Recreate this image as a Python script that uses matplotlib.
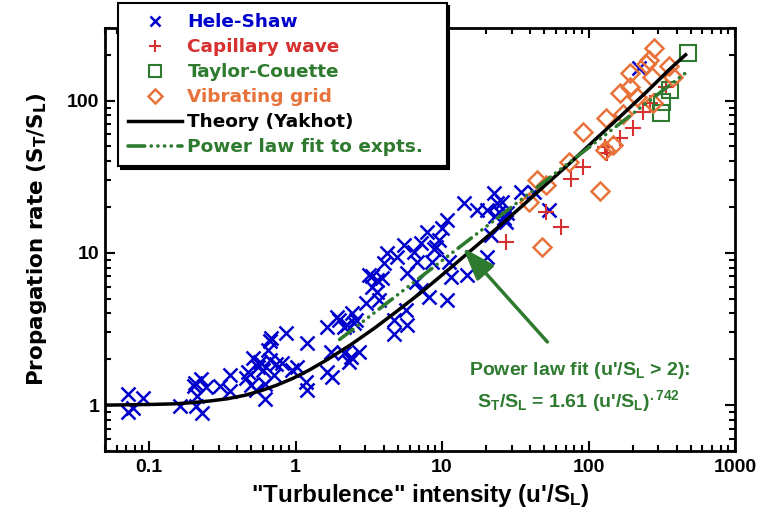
import matplotlib
matplotlib.use('Agg')
import matplotlib.pyplot as plt
from matplotlib import font_manager

# Hele-Shaw
hs_x = [0.072, 0.072, 0.078, 0.091, 0.163, 0.203, 0.207, 0.227, 0.246, 0.213, 0.21, 0.231,
        0.306, 0.359, 0.359, 0.462, 0.477, 0.516, 0.50, 0.558, 0.576, 0.604, 0.541, 0.623,
        0.623, 0.674, 0.685, 0.653, 0.674, 0.707, 0.730, 0.802, 0.855, 0.939, 1.02,
        1.19, 1.17, 1.19, 1.63, 1.63, 1.74, 1.76, 1.91, 1.97, 2.13, 2.24, 2.42, 2.58, 2.50,
        2.13, 2.38, 2.31, 2.70,
        3.16, 3.32, 3.59, 3.88, 3.02, 3.32, 3.59, 3.70, 4.01, 4.20, 4.92, 4.69, 4.69, 5.67,
        5.76, 5.49, 6.43, 6.74, 7.18, 7.89, 5.76, 6.64, 7.18, 8.15, 8.54, 9.10, 10.0, 10.8,
        9.53, 8.81, 11.2, 11.5, 14.8, 10.8, 20.3, 21.7, 14.2, 17.4, 20.3, 22.7, 23.8, 25.8,
        26.6, 27.9, 27.4, 24.5, 23.1, 34.8, 42.7, 54.1, 220]
hs_y = [1.18, 0.90, 0.955, 1.11, 0.985, 1.33, 1.40, 1.48, 1.31, 1.15, 0.985, 0.886,
        1.33, 1.57, 1.24, 1.51, 1.65, 2.04, 1.35, 1.78, 1.92, 1.70, 1.25, 1.37,
        1.09, 2.64, 2.76, 2.30, 1.98, 1.57, 1.86, 1.89, 2.98, 1.70, 1.78,
        2.56, 1.42, 1.25, 3.26, 1.65, 2.23, 1.53, 3.79, 3.62, 3.26, 3.36, 4.03, 3.62, 3.46,
        2.20, 2.07, 1.92, 2.23,
        7.16, 7.06, 6.64, 6.85, 4.69, 5.97, 5.54, 4.91, 8.59, 10.0, 9.41, 3.62, 2.93, 4.22,
        3.36, 11.3, 10.2, 8.73, 11.6, 13.7, 7.39, 6.44, 5.71, 5.14, 8.73, 10.9, 14.6, 16.5,
        12.2, 10.6, 8.73, 6.95, 7.16, 4.91, 9.41, 13.1, 21.3, 19.2, 19.2, 24.8, 21.3, 21.7,
        17.0, 18.3, 16.0, 18.6, 17.5, 25.2, 25.2, 19.2, 165]

# Capillary wave
cw_x = [27.4, 51.6, 65.3, 76.5, 91.0, 129, 133, 163, 200, 234, 262, 337]
cw_y = [11.8, 18.6, 14.8, 30.7, 36.8, 49.8, 45.5, 57.1, 66.4, 84.7, 97, 122]

# Taylor-Couette
tc_x = [476, 359, 316, 311]
tc_y = [204, 118, 98.5, 83.4]

# Vibrating grid
vg_x = [44.7, 51.6, 39.4, 48.4, 74.1, 119, 91.0, 146, 129, 131, 171, 274, 213, 163,
        191, 191, 270, 246, 258, 279, 353, 376]
vg_y = [30.2, 28.0, 21.7, 10.9, 39.7, 25.6, 62.5, 51.4, 47.6, 77.3, 82.1, 97, 105, 113,
        122, 151, 144, 175, 186, 223, 170, 142]

# Theory (Yakhot)
theory_x = [0.05, 0.1, 0.15, 0.2, 0.26, 0.34, 0.45, 0.59, 0.74, 0.96, 1.24, 1.66, 2.39,
            3.45, 4.7, 7.2, 10.6, 16, 22.7, 34.6, 51, 75, 110, 168, 251, 356, 460]
theory_y = [1.0, 1.01, 1.02, 1.04, 1.065, 1.1, 1.16, 1.25, 1.35, 1.5, 1.7, 2.0, 2.5,
            3.2, 4.0, 5.5, 7.5, 10.5, 14, 20, 28, 39, 55, 80, 115, 160, 200]

# power law fit end points
fit_x = [2.0, 460]
fit_y = [2.7, 152]

xticks = [0.1, 1, 10, 100, 1000]
xtick_labels = ['0.1', '1', '10', '100', '1000']
yticks = [1, 10, 100]
ytick_labels = ['1', '10', '100']

blue = '#0000cc'
red = '#d63030'
green = '#2e7a2e'
orange = '#e8733a'

names = {f.name for f in font_manager.fontManager.ttflist}
narrow = 'Liberation Sans Narrow' if 'Liberation Sans Narrow' in names else 'Liberation Sans'

plt.rcParams['mathtext.fontset'] = 'custom'
plt.rcParams['mathtext.rm'] = 'Liberation Sans:bold'
plt.rcParams['mathtext.it'] = 'Liberation Sans:bold'
plt.rcParams['mathtext.bf'] = 'Liberation Sans:bold'
plt.rcParams['lines.scale_dashes'] = False

fig = plt.figure(figsize=(7.57, 5.25), dpi=100)
ax = fig.add_axes([0.1387, 0.141, 0.8322, 0.8057])

ax.plot(hs_x, hs_y, 'x', ls='none', color=blue, ms=9.5, mew=1.8, label='Hele-Shaw')
ax.plot(cw_x, cw_y, '+', ls='none', color=red, ms=12, mew=1.5, label='Capillary wave')
ax.plot(tc_x, tc_y, 's', ls='none', color=green, mfc='none', ms=12, mew=1.5,
        label='Taylor-Couette')
ax.plot(vg_x, vg_y, 'D', ls='none', color=orange, mfc='none', ms=9, mew=1.8,
        label='Vibrating grid')
ax.plot(theory_x, theory_y, '-', color='black', lw=2.5, label='Theory (Yakhot)')
ax.plot(fit_x, fit_y, color=green, lw=2.6, dash_capstyle='round',
        dashes=(12, 4.7, 0.1, 4.7, 0.1, 4.7, 0.1, 4.7, 0.1, 4.7),
        label='Power law fit to expts.  ')

ax.set_xscale('log')
ax.set_yscale('log')
ax.set_xlim(0.05, 1000)
ax.set_ylim(0.5, 300)
ax.set_xticks(xticks)
ax.set_xticklabels(xtick_labels)
ax.set_yticks(yticks)
ax.set_yticklabels(ytick_labels)

ax.tick_params(which='both', direction='in', top=True, right=True, width=1.5)
ax.tick_params(which='major', length=7, labelsize=14)
ax.tick_params(which='minor', length=4)
ax.tick_params(axis='x', which='major', pad=6)
ax.tick_params(axis='y', which='major', pad=4)
for lab in ax.get_xticklabels() + ax.get_yticklabels():
    lab.set_fontfamily(narrow)
    lab.set_fontweight('bold')
for sp in ax.spines.values():
    sp.set_linewidth(2)

ax.set_xlabel('"Turbulence" intensity (u\'/S$_L$)', fontfamily=narrow,
              fontweight='bold', fontsize=17.5, labelpad=4)
ax.set_ylabel(r'Propagation rate ($\mathbf{S_T/S_L}$)', fontfamily='DejaVu Sans',
              fontweight='bold', fontsize=15.5, math_fontfamily='dejavusans', labelpad=13)

leg = ax.legend(loc='upper left', bbox_to_anchor=(0.021, 1.059), borderaxespad=0,
                prop={'family': 'DejaVu Sans', 'weight': 'bold', 'size': 13.3},
                fancybox=False, framealpha=1, edgecolor='black',
                shadow={'color': 'black', 'alpha': 1},
                handlelength=2.9, handletextpad=0.3, labelspacing=0.38,
                borderpad=0.55, markerscale=0.75)
leg.get_frame().set_linewidth(1.5)
leg.set_zorder(10)
for txt, c in zip(leg.get_texts(), [blue, red, green, orange, 'black', green]):
    txt.set_color(c)

ax.annotate('', xy=(13.9, 10.8), xytext=(52.4, 2.6),
            arrowprops=dict(arrowstyle='-|>,head_length=1.0,head_width=0.35',
                            color=green, lw=2.5, mutation_scale=20,
                            shrinkA=0, shrinkB=0))
ax.text(0.754, 0.191, "Power law fit (u'/S$_L$ > 2):", transform=ax.transAxes,
        ha='center', va='center', color=green, fontfamily='Liberation Sans',
        fontweight='bold', fontsize=14)
ax.text(0.752, 0.118, "S$_T$/S$_L$ = 1.61 (u'/S$_L$)$^{.742}$", transform=ax.transAxes,
        ha='center', va='center', color=green, fontfamily='Liberation Sans',
        fontweight='bold', fontsize=14)

fig.savefig('out.png', dpi=100)
